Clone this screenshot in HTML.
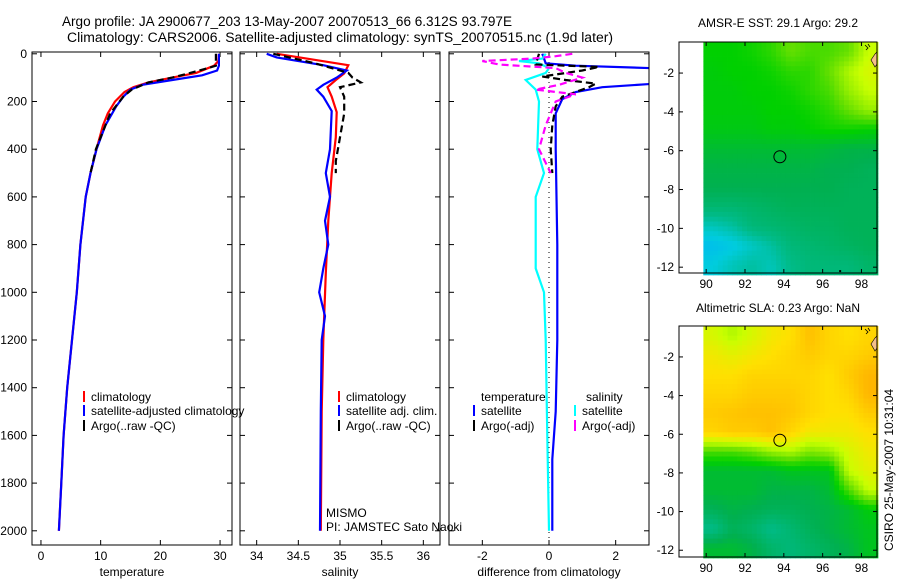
<!DOCTYPE html>
<html><head><meta charset="utf-8">
<style>
html,body{margin:0;padding:0;background:#fff;}
svg{display:block;font-family:"Liberation Sans",sans-serif;font-size:12px;}
</style></head>
<body>
<svg id="fig" width="900" height="580" viewBox="0 0 900 580">
<text x="62" y="26" textLength="450" lengthAdjust="spacingAndGlyphs" style="font-size:13.5px">Argo profile: JA 2900677_203 13-May-2007 20070513_66 6.312S 93.797E</text>
<text x="67" y="42" textLength="546" lengthAdjust="spacingAndGlyphs" style="font-size:13.5px">Climatology: CARS2006. Satellite-adjusted climatology: synTS_20070515.nc (1.9d later)</text>
<text x="778" y="27" text-anchor="middle">AMSR-E SST: 29.1 Argo: 29.2</text>
<text x="778" y="312" text-anchor="middle">Altimetric SLA: 0.23 Argo: NaN</text>
<text transform="translate(893,470) rotate(-90)" text-anchor="middle">CSIRO 25-May-2007 10:31:04</text>
<g id="plots"></g>
</svg>
<script>
// ---- profile data ----
const depthTicks = [0,200,400,600,800,1000,1200,1400,1600,1800,2000];
const tempTicks = [0,10,20,30];
const salTicks = [34,34.5,35,35.5,36];
const diffTicks = [-2,0,2];
const latTicks = [-2,-4,-6,-8,-10,-12];
const lonTicks = [90,92,94,96,98];

const tClimDepth = [0,30,50,65,80,100,120,140,160,200,250,300,400,500,600,800,1000,1200,1400,1600,1800,2000];
const tClimVal   = [29.8,29.7,29,27.5,26,22,18,15.5,14,12.4,11.2,10.4,9.3,8.3,7.5,6.6,6.0,5.2,4.4,3.8,3.4,3.0];
const tSatDepth = [0,50,70,90,110,130,150,180,220,300,400,500,600,800,1000,1200,1400,1600,1800,2000];
const tSatVal   = [29.8,29.8,29.5,27,22,17,15,13.8,12.6,10.8,9.3,8.3,7.5,6.6,6.0,5.2,4.4,3.8,3.4,3.0];
const tArgoDepth = [0,50,60,80,100,120,150,180,250,400,500];
const tArgoVal   = [29.3,29.3,28,25,22,18,15.2,13.8,11.6,9.2,8.3];

const sClimDepth = [0,20,48,82,110,140,180,245,350,500,700,920,1200,1500,2000];
const sClimVal   = [34.24,34.6,35.1,35.05,34.95,34.85,34.9,34.96,34.95,34.9,34.86,34.83,34.8,34.78,34.77];
const sSatDepth = [0,15,48,70,100,130,150,180,240,400,500,600,700,800,900,1000,1100,1200,1500,2000];
const sSatVal   = [34.12,34.24,34.8,35.08,34.96,34.8,34.72,34.8,34.9,34.88,34.83,34.88,34.82,34.86,34.8,34.75,34.82,34.78,34.77,34.76];
const sArgoDepth = [0,40,60,80,100,120,140,180,250,350,450,500];
const sArgoVal   = [34.2,34.7,34.9,35.1,35.15,35.25,35.0,35.05,35.05,35.0,34.95,34.95];

const dTSatDepth = [0,40,50,62,110,125,140,160,190,250,400,800,1200,1500,1700,2000];
const dTSatVal   = [-0.2,-0.1,0.8,3.5,4,3.2,1.6,0.8,0.4,0.2,0.2,0.25,0.25,0.2,0.1,0.1];
const dTArgoDepth = [0,45,55,70,95,110,125,140,160,180,220,300,400,500];
const dTArgoVal   = [-0.3,-0.4,1.5,1.0,-0.2,0.5,1.4,1.2,0.8,0.4,0.2,0.1,0.05,0.1];
const dSSatDepth = [0,20,30,40,60,80,110,150,200,400,500,600,900,1000,1200,1600,2000];
const dSSatVal   = [-0.1,-0.2,-0.9,-0.3,0,-0.1,-0.7,-0.4,-0.3,-0.35,-0.15,-0.4,-0.4,-0.15,-0.1,-0.05,0];
const dSArgoDepth = [0,10,20,30,45,60,80,100,130,150,170,200,300,400,500];
const dSArgoVal   = [0.7,0.2,-0.5,-2.0,-1.5,0.2,0.5,1.0,0.3,-0.4,0.8,0.2,-0.1,-0.3,0.05];

// ---- map data (1-degree cells, rows top->bottom, cols lon 89.85..98.85) ----
const sstGrid = [
[0.55,0.55,0.56,0.58,0.62,0.60,0.60,0.62,0.70],
[0.54,0.55,0.55,0.56,0.58,0.58,0.62,0.68,0.72],
[0.54,0.54,0.55,0.55,0.56,0.58,0.60,0.66,0.70],
[0.54,0.54,0.54,0.55,0.55,0.56,0.58,0.62,0.66],
[0.53,0.53,0.53,0.54,0.54,0.55,0.56,0.56,0.55],
[0.50,0.50,0.50,0.50,0.50,0.50,0.49,0.48,0.48],
[0.48,0.48,0.48,0.48,0.48,0.48,0.47,0.47,0.46],
[0.47,0.47,0.47,0.47,0.47,0.47,0.47,0.46,0.46],
[0.43,0.43,0.44,0.45,0.46,0.46,0.46,0.46,0.46],
[0.36,0.38,0.42,0.43,0.44,0.45,0.45,0.46,0.46],
[0.30,0.32,0.35,0.38,0.42,0.43,0.44,0.45,0.46],
[0.33,0.36,0.38,0.36,0.40,0.42,0.42,0.42,0.44]];
const slaGrid = [
[0.72,0.68,0.72,0.76,0.78,0.84,0.80,0.78,0.80],
[0.76,0.74,0.76,0.78,0.80,0.82,0.80,0.80,0.82],
[0.78,0.78,0.80,0.80,0.80,0.80,0.78,0.82,0.86],
[0.80,0.80,0.82,0.82,0.82,0.80,0.78,0.80,0.86],
[0.82,0.83,0.84,0.84,0.83,0.80,0.78,0.78,0.82],
[0.80,0.82,0.82,0.84,0.80,0.76,0.76,0.76,0.78],
[0.60,0.60,0.62,0.66,0.68,0.64,0.66,0.72,0.76],
[0.50,0.50,0.50,0.50,0.52,0.52,0.52,0.70,0.74],
[0.50,0.50,0.50,0.48,0.48,0.48,0.50,0.60,0.70],
[0.46,0.48,0.47,0.46,0.46,0.47,0.48,0.50,0.54],
[0.40,0.46,0.44,0.40,0.43,0.46,0.48,0.50,0.52],
[0.50,0.50,0.48,0.44,0.42,0.44,0.46,0.48,0.52]];
const argoLon = 93.797, argoLat = -6.312;

const NS='http://www.w3.org/2000/svg';
const root=document.getElementById('plots');
function mk(tag,attrs,parent){const e=document.createElementNS(NS,tag);for(const k in attrs)e.setAttribute(k,attrs[k]);(parent||root).appendChild(e);return e;}

const PY0=52, PY1=545;
const yD = d => 53.8 + d*0.2385;

function panel(x0,x1,xmin,xmax,name){
  const g=mk('g',{});
  
  
  const sx=v=>x0+(v-xmin)/(xmax-xmin)*(x1-x0);
  return {g,sx,x0,x1};
}
function line(p,depths,vals,color,dash,name){
  let pts=depths.map((d,i)=>p.sx(vals[i]).toFixed(1)+','+yD(d).toFixed(1)).join(' ');
  const e=mk('polyline',{points:pts,fill:'none',stroke:color,'stroke-width':2.2,'stroke-dasharray':dash||'none','clip-path':'url(#'+p.clip+')'},p.g);
  
  
}
function frame(p,ticks,labels,title,showY){
  const defs=mk('defs',{},p.g);
  p.clip='clip'+Math.round(p.x0);
  const cp=mk('clipPath',{id:p.clip},defs);
  mk('rect',{x:p.x0,y:PY0,width:p.x1-p.x0,height:PY1-PY0},cp);
  ticks.forEach((t,i)=>{
    const x=p.sx(t);
    mk('line',{x1:x,x2:x,y1:PY1,y2:PY1-5,stroke:'#000'},p.g);
    mk('line',{x1:x,x2:x,y1:PY0,y2:PY0+5,stroke:'#000'},p.g);
    const tl=mk('text',{x:x,y:560,'text-anchor':'middle'},p.g);
    tl.textContent=labels[i];
    
    
  });
  depthTicks.forEach(d=>{
    const y=yD(d);
    mk('line',{x1:p.x0,x2:p.x0+5,y1:y,y2:y,stroke:'#000'},p.g);
    mk('line',{x1:p.x1,x2:p.x1-5,y1:y,y2:y,stroke:'#000'},p.g);
    if(showY){
      const tl=mk('text',{x:p.x0-5,y:y+4,'text-anchor':'end'},p.g);
      tl.textContent=d;
      
      
    }
  });
  const tt=mk('text',{x:(p.x0+p.x1)/2,y:576,'text-anchor':'middle'},p.g);
  tt.textContent=title;
  
  
}
function border(p){mk('rect',{x:p.x0,y:PY0,width:p.x1-p.x0,height:PY1-PY0,fill:'none',stroke:'#000','stroke-width':1},p.g);}
function legend(p,x,y,color,label){
  mk('line',{x1:x,x2:x,y1:y-6,y2:y+5,stroke:color,'stroke-width':2},p.g);
  const t=mk('text',{x:x+7,y:y+4},p.g);
  t.textContent=label;
  
  
}

// Panel 1 temperature
const p1=panel(32,232,-1.5,32,'temperature-panel');
frame(p1,tempTicks,['0','10','20','30'],'temperature',true);
line(p1,tClimDepth,tClimVal,'#ff0000',null,'temp-climatology-line');
line(p1,tSatDepth,tSatVal,'#0000ff',null,'temp-satellite-line');
line(p1,tArgoDepth,tArgoVal,'#000000','7,4','temp-argo-line');
border(p1);
legend(p1,84,397,'#f00','climatology');
legend(p1,84,411,'#00f','satellite-adjusted climatology');
legend(p1,84,426,'#000','Argo(..raw -QC)');

// Panel 2 salinity
const p2=panel(240,440,33.8,36.2,'salinity-panel');
frame(p2,salTicks,['34','34.5','35','35.5','36'],'salinity',false);
line(p2,sClimDepth,sClimVal,'#ff0000',null,'sal-climatology-line');
line(p2,sSatDepth,sSatVal,'#0000ff',null,'sal-satellite-line');
line(p2,sArgoDepth,sArgoVal,'#000000','7,4','sal-argo-line');
border(p2);
legend(p2,339,397,'#f00','climatology');
legend(p2,339,411,'#00f','satellite adj. clim.');
legend(p2,339,426,'#000','Argo(..raw -QC)');
{const t=mk('text',{x:326,y:517},p2.g);t.textContent='MISMO';


const t2=mk('text',{x:326,y:531},p2.g);t2.textContent='PI: JAMSTEC Sato Naoki';

}

// Panel 3 differences
const p3=panel(449,649,-3,3,'difference-panel');
frame(p3,diffTicks,['-2','0','2'],'difference from climatology',false);
mk('line',{x1:p3.sx(0),x2:p3.sx(0),y1:PY0,y2:PY1,stroke:'#000','stroke-dasharray':'1,4'},p3.g);
line(p3,dTSatDepth,dTSatVal,'#0000ff',null,'diff-temp-satellite-line');
line(p3,dSSatDepth,dSSatVal,'#00ffff',null,'diff-sal-satellite-line');
line(p3,dTArgoDepth,dTArgoVal,'#000000','7,4','diff-temp-argo-line');
line(p3,dSArgoDepth,dSArgoVal,'#ff00ff','7,4','diff-sal-argo-line');
border(p3);
{const t=mk('text',{x:481,y:401},p3.g);t.textContent='temperature';


const t2=mk('text',{x:586,y:401},p3.g);t2.textContent='salinity';

}
legend(p3,474,411,'#00f','satellite');
legend(p3,474,426,'#000','Argo(-adj)');
legend(p3,575,411,'#0ff','satellite');
legend(p3,575,426,'#f0f','Argo(-adj)');

// ---- maps ----
const cStops=[[0.25,[0,170,255]],[0.33,[0,204,221]],[0.40,[0,187,136]],[0.47,[0,176,80]],[0.55,[0,208,0]],[0.62,[102,224,0]],[0.70,[200,255,0]],[0.78,[255,224,0]],[0.85,[255,187,0]],[0.92,[255,153,0]]];
function cmap(v){
  if(v<=cStops[0][0])return cStops[0][1];
  for(let i=1;i<cStops.length;i++){if(v<=cStops[i][0]){const a=cStops[i-1],b=cStops[i];const f=(v-a[0])/(b[0]-a[0]);return a[1].map((c,k)=>Math.round(c+(b[1][k]-c)*f));}}
  return cStops[cStops.length-1][1];
}
function map(grid,bx0,by0,bx1,by1,latTop,latBot,name){
  const g=mk('g',{});
  
  
  const lonL=88.6, lonR=98.8;
  const sx=lon=>bx0+(lon-lonL)/(lonR-lonL)*(bx1-bx0);
  const sy=lat=>by0+(latTop-lat)/(latTop-latBot)*(by1-by0);
  const rows=grid.length, cols=grid[0].length, sub=4;
  const lon0=89.85, lat0=-0.4;
  function val(c,r){
    c=Math.max(0,Math.min(cols-1,c)); r=Math.max(0,Math.min(rows-1,r));
    const c0=Math.floor(c),r0=Math.floor(r),c1=Math.min(cols-1,c0+1),r1=Math.min(rows-1,r0+1);
    const fc=c-c0,fr=r-r0;
    return grid[r0][c0]*(1-fc)*(1-fr)+grid[r0][c1]*fc*(1-fr)+grid[r1][c0]*(1-fc)*fr+grid[r1][c1]*fc*fr;
  }
  for(let r=0;r<rows*sub;r++){
    for(let c=0;c<cols*sub;c++){
      const lonA=lon0+c/sub, latA=lat0-r/sub;
      const v=val((c+0.5)/sub-0.5,(r+0.5)/sub-0.5);
      const col=cmap(v);
      const x=sx(lonA), y=sy(latA);
      const w=sx(lonA+1/sub)-x, h=sy(latA-1/sub)-y;
      const rc=mk('rect',{x:x.toFixed(2),y:y.toFixed(2),width:(w+0.4).toFixed(2),height:(h+0.4).toFixed(2),fill:'rgb('+col.join(',')+')'},g);
      
      
    }
  }
  mk('path',{d:`M${bx1-2},${by0+12} L${bx1-6},${by0+18} L${bx1-2},${by0+25} L${bx1},${by0+22} L${bx1},${by0+10} Z`,fill:'#f5c08a',stroke:'#000','stroke-width':0.6},g);
  mk('path',{d:`M${bx1-12},${by0+3} l3,3 l-2,2 M${bx1-9},${by0+2} l2,3`,stroke:'#000',fill:'none','stroke-width':0.8},g);
  mk('rect',{x:sx(96.85),y:sy(-12.15),width:2,height:2,fill:'#000'},g);
  mk('rect',{x:bx0,y:by0,width:sx(lon0)-bx0,height:by1-by0,fill:'#fff'},g);
  const ci=mk('circle',{cx:sx(argoLon),cy:sy(argoLat),r:6,fill:'none',stroke:'#000','stroke-width':1},g);
  
  
  mk('rect',{x:bx0,y:by0,width:bx1-bx0,height:by1-by0,fill:'none',stroke:'#000'},g);
  lonTicks.forEach(l=>{
    const x=sx(l);
    mk('line',{x1:x,x2:x,y1:by1,y2:by1-4,stroke:'#000'},g);
    mk('line',{x1:x,x2:x,y1:by0,y2:by0+4,stroke:'#000'},g);
    const t=mk('text',{x:x,y:by1+15,'text-anchor':'middle'},g);
    t.textContent=l;
    
    
  });
  latTicks.forEach(l=>{
    const y=sy(l);
    mk('line',{x1:bx0,x2:bx0+4,y1:y,y2:y,stroke:'#000'},g);
    mk('line',{x1:bx1,x2:bx1-4,y1:y,y2:y,stroke:'#000'},g);
    const t=mk('text',{x:bx0-5,y:y+4,'text-anchor':'end'},g);
    t.textContent=l;
    
    
  });
}
map(sstGrid,679,42,877,273,-0.4,-12.3,'sst-map');
map(slaGrid,679,326,877,557,-0.4,-12.35,'sla-map');
</script>
</body></html>
